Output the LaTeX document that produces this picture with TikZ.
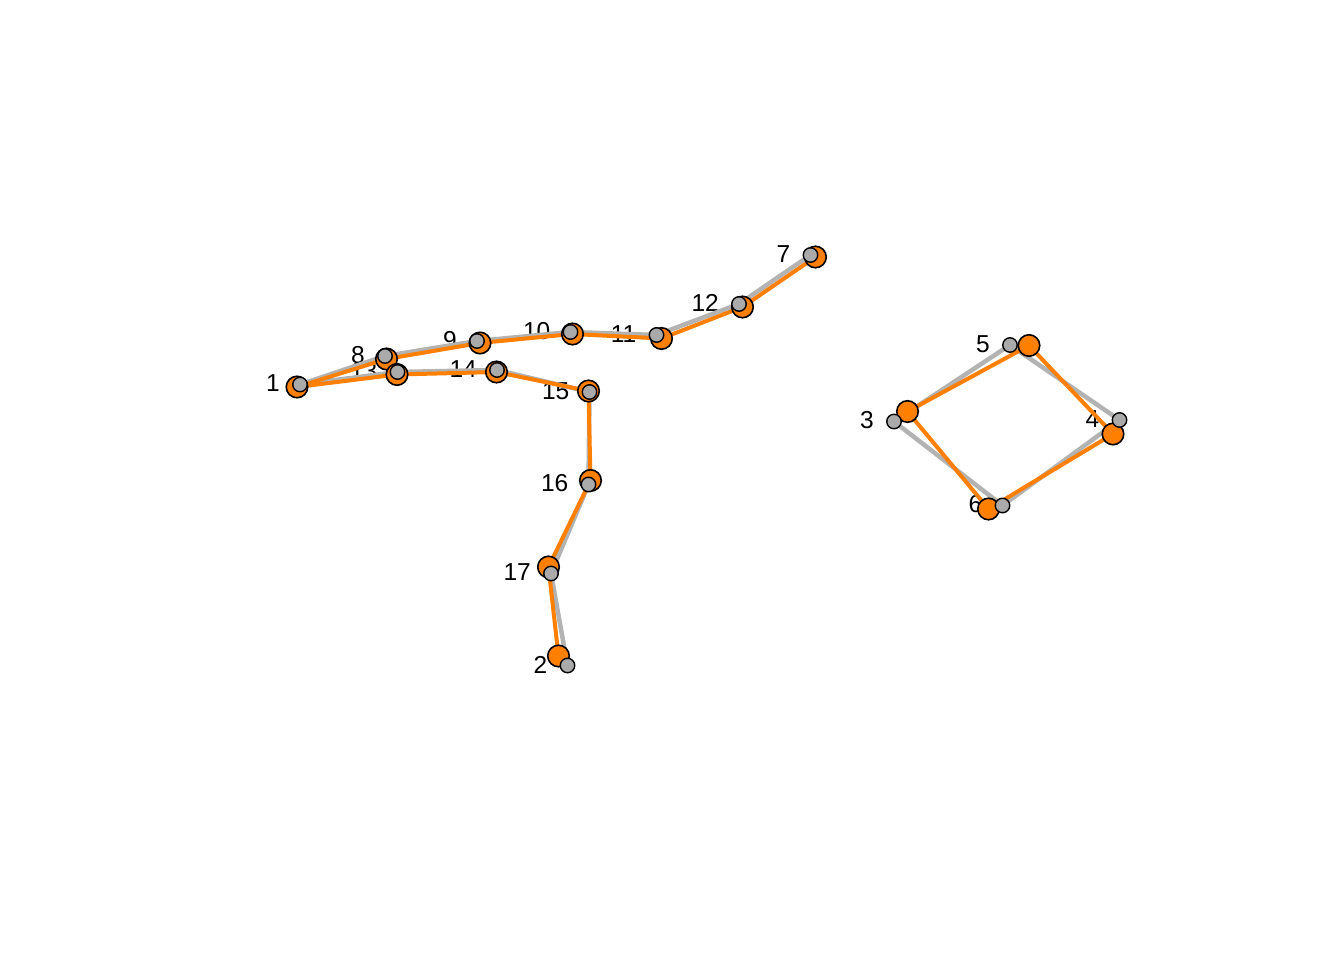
\documentclass[tikz,border=0pt]{standalone}
\usepackage{fontspec}
\usetikzlibrary{calc}
\setmainfont{Liberation Sans}
\definecolor{orng}{RGB}{255,127,0}
\definecolor{gpt}{RGB}{170,170,170}
\definecolor{gln}{RGB}{179,179,179}
\begin{document}
\begin{tikzpicture}[x=1pt,y=-1pt,
  lbl/.style={anchor=east,inner sep=0pt,font=\fontsize{24.5}{24.5}\selectfont},
  oedge/.style={draw=orng,line width=4pt,line cap=round},
  gedge/.style={draw=gln,line width=4.5pt,line cap=round},
  opt/.style={circle,fill=orng,draw=black,line width=1.6pt,minimum size=21.5pt,inner sep=0pt},
  gpnt/.style={circle,fill=gpt,draw=black,line width=1.4pt,minimum size=14.5pt,inner sep=0pt}]
\useasboundingbox (0,0) rectangle (1344,960);
% gray positions
\foreach \n/\x/\y in {1/300/384.5, 8/385/356, 13/397.5/372, 9/477/341, 14/497/370, 10/570.5/332, 11/656.5/335, 12/739/304, 7/810.5/255, 15/589.5/392, 16/588.5/484.5, 17/551/573.5, 2/567.5/665.5, 5/1010/345, 3/894/421.5, 4/1119.5/420, 6/1002.5/505.5}
  \coordinate (g\n) at (\x,\y);
% orange positions
\foreach \n/\x/\y in {1/297/387, 8/386.5/359, 13/397/374.5, 9/480/343, 14/496.5/372, 10/572.5/334, 11/661.5/338.5, 12/742.5/307, 7/815.5/257, 15/588.5/391, 16/590.5/480.5, 17/548.5/567, 2/558.5/656, 5/1029/345.5, 3/907.5/411.5, 4/1113/434, 6/988.5/509}
  \coordinate (o\n) at (\x,\y);
% labels
\foreach \n in {1,8,13,9,14,10,11,12,7,15,16,17,2,5,3,4,6}
  \node[lbl] (l\n) at ($(g\n)+(-20,-1)$) {\n};
% gray edges
\foreach \a/\b in {1/8,8/9,9/10,10/11,11/12,12/7,1/13,13/14,14/15,15/16,16/17,17/2,3/5,5/4,4/6,6/3}
  \draw[gedge] (g\a) -- (g\b);
% orange edges
\foreach \a/\b in {1/8,8/9,9/10,10/11,11/12,12/7,1/13,13/14,14/15,15/16,16/17,17/2,3/5,5/4,4/6,6/3}
  \draw[oedge] (o\a) -- (o\b);
% orange points
\foreach \n in {1,8,13,9,14,10,11,12,7,15,16,17,2,5,3,4,6}
  \node[opt] (op\n) at (o\n) {};
% gray points
\foreach \n in {1,8,13,9,14,10,11,12,7,15,16,17,2,5,3,4,6}
  \node[gpnt] (gp\n) at (g\n) {};
\end{tikzpicture}
\end{document}
